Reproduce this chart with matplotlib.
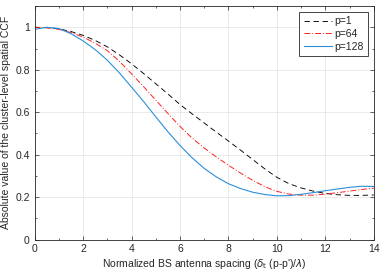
import numpy as np
import matplotlib
matplotlib.use("Agg")
import matplotlib.pyplot as plt
from matplotlib.ticker import MultipleLocator

plt.rcParams["font.family"] = "Liberation Sans"
plt.rcParams["font.size"] = 7.5
plt.rcParams["mathtext.fontset"] = "dejavusans"

# normalized spacing and CCF values
spacing = np.arange(0, 14.5, 0.5)
ccf_p1 = [1.000, 0.998, 0.993, 0.980, 0.962, 0.938, 0.908, 0.870, 0.828,
          0.782, 0.734, 0.686, 0.636, 0.592, 0.549, 0.506, 0.464, 0.421,
          0.377, 0.333, 0.293, 0.263, 0.243, 0.228, 0.217, 0.211, 0.208,
          0.208, 0.210]
ccf_p64 = [1.000, 0.998, 0.990, 0.975, 0.954, 0.925, 0.890, 0.840, 0.781,
           0.720, 0.657, 0.594, 0.533, 0.478, 0.431, 0.389, 0.350, 0.313,
           0.279, 0.249, 0.227, 0.214, 0.209, 0.209, 0.214, 0.221, 0.228,
           0.236, 0.242]
ccf_p128 = [0.990, 1.000, 0.994, 0.970, 0.936, 0.895, 0.845, 0.785, 0.718,
            0.650, 0.578, 0.508, 0.443, 0.385, 0.335, 0.295, 0.263, 0.240,
            0.223, 0.212, 0.206, 0.207, 0.213, 0.221, 0.230, 0.238, 0.246,
            0.251, 0.250]

TXT = "#262626"

fig = plt.figure(figsize=(3.82, 2.75), dpi=100)
ax = fig.add_axes([0.0906, 0.129, 0.888, 0.849])

ax.plot(spacing, ccf_p1, color="black", ls=(0, (6, 4)), lw=0.65, label="p=1")
ax.plot(spacing, ccf_p64, color="#ff2020", ls=(0, (6, 2, 1, 2)), lw=0.7, label="p=64")
ax.plot(spacing, ccf_p128, color="#2b8fd8", ls="-", lw=0.8, label="p=128")

ax.set_xlim(0, 14)
ax.set_ylim(0, 1.1)
ax.xaxis.set_major_locator(MultipleLocator(2))
ax.xaxis.set_minor_locator(MultipleLocator(1))
ax.yaxis.set_major_locator(MultipleLocator(0.2))
ax.yaxis.set_minor_locator(MultipleLocator(0.1))
ax.set_yticks([0, 0.2, 0.4, 0.6, 0.8, 1.0])
ax.set_yticklabels(["0", "0.2", "0.4", "0.6", "0.8", "1"])
ax.tick_params(which="both", direction="in", top=True, right=True,
               colors=TXT, labelsize=7.5, width=0.5)
ax.tick_params(which="major", length=3)
ax.tick_params(which="minor", length=1.6)
ax.grid(True, which="major", color="#e6e6e6", lw=0.6)
ax.set_axisbelow(True)
for s in ax.spines.values():
    s.set_color(TXT)
    s.set_linewidth(0.6)

ax.set_xlabel(r"Normalized BS antenna spacing ($\delta_{\rm t}$ (p-p')/$\lambda$)",
              color=TXT, fontsize=7.5, labelpad=2)
ax.set_ylabel("Absolute value of the cluster-level spatial CCF",
              color=TXT, fontsize=7.5, labelpad=3)

leg = ax.legend(loc="upper right", fancybox=False, framealpha=1,
                edgecolor=TXT, fontsize=7.5, handlelength=2.7,
                borderaxespad=0.55, borderpad=0.45, labelspacing=0.25,
                handletextpad=0.2)
leg.get_frame().set_linewidth(0.6)
for t in leg.get_texts():
    t.set_color(TXT)

fig.savefig("out.png", dpi=100)
